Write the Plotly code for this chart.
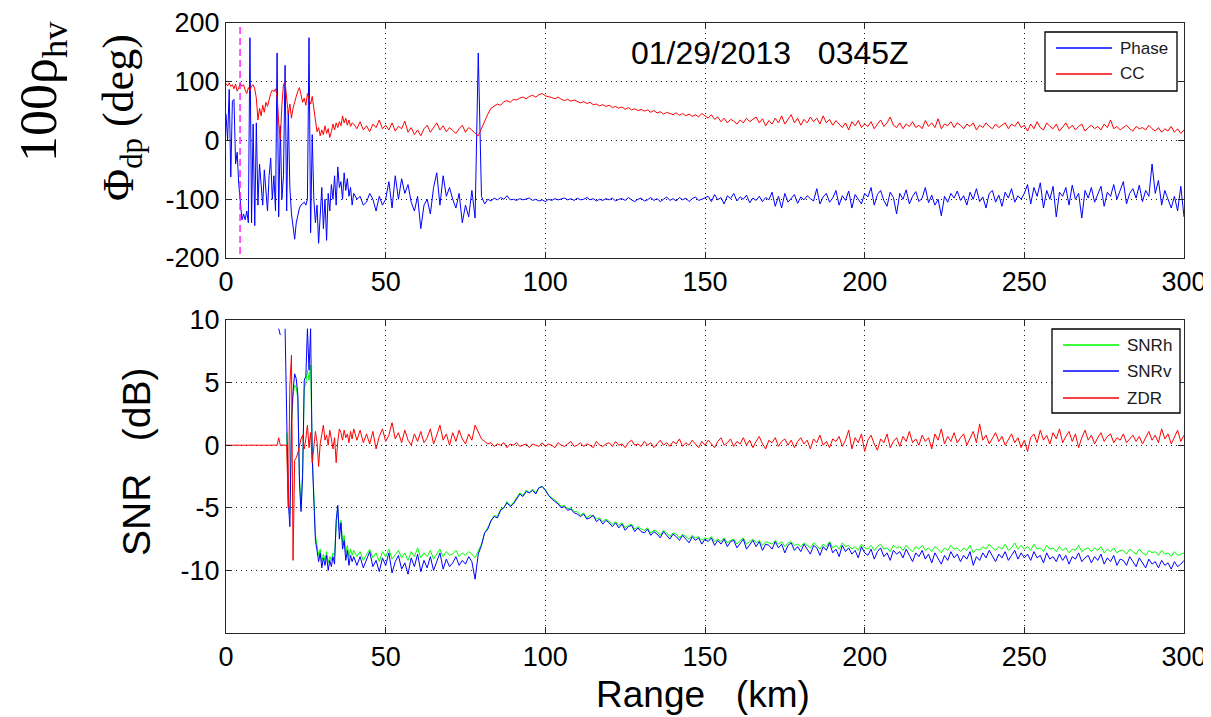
import numpy as np
import plotly.graph_objects as go

# ---------------- data ----------------
# range gates: 0.5 km spacing up to 40 km, 1 km spacing beyond
range_near_km = np.arange(0, 40.5, 0.5)      # 81 gates
range_far_km = np.arange(41, 301, 1)         # 260 gates

phase_near = [45, 0, 87, -62, 67, 70, -40, -20, -75, -110,
              -135, -125, -135, -120, -140, 175, -140, 28, -145, 30,
              -110, -40, -70, -110, -50, -90, -120, -60, -30, -100,
              -60, -120, 149, -130, 25, -100, -60, 128, -120, 50,
              -80, -125, -150, -168, -140, -125, -115, -110, -108, -105,
              -110, -100, 175, -157, 10, -100, -140, -110, -175, -120,
              -80, -150, -100, -170, -90, -120, -75, -100, -60, -110,
              -45, -80, -70, -100, -55, -85, -65, -95, -80, -110,
              -90]
phase_far = [-100, -95, -110, -105, -90, -100, -120, -95, -110, -100,
             -70, -115, -60, -100, -65, -90, -75, -105, -120, -95,
             -150, -110, -100, -125, -80, -55, -110, -60, -95, -80,
             -100, -115, -90, -140, -110, -130, -85, -132, 149, -95,
             -108, -100, -103, -98, -101, -97, -100, -94, -101, -100,
             -102, -99, -101, -100, -98, -102, -100, -103, -101, -104,
             -100, -102, -99, -101, -100, -98, -101, -99, -102, -98,
             -101, -100, -97, -101, -99, -103, -100, -102, -99, -101,
             -98, -103, -100, -99, -102, -97, -101, -104, -100, -98,
             -103, -101, -97, -102, -99, -104, -100, -96, -102, -99,
             -103, -97, -101, -98, -104, -99, -96, -102, -100, -97,
             -95, -104, -92, -101, -97, -108, -94, -99, -90, -103,
             -96, -100, -93, -106, -98, -102, -95, -104, -97, -101,
             -88, -112, -95, -115, -90, -105, -98, -92, -107, -96,
             -101, -94, -99, -103, -82, -108, -96, -90, -105, -98,
             -85, -110, -94, -102, -86, -115, -92, -100, -108, -90,
             -96, -80, -110, -92, -85, -102, -112, -88, -97, -125,
             -90, -100, -84, -108, -95, -87, -104, -98, -80, -106,
             -93, -110, -100, -128, -95, -105, -90, -98, -86, -102,
             -94, -110, -88, -100, -82, -104, -96, -115, -90, -85,
             -105, -93, -112, -88, -98, -82, -105, -94, -100, -90,
             -75, -108, -80, -95, -72, -115, -85, -100, -78, -130,
             -88, -95, -80, -110, -76, -100, -90, -132, -85, -98,
             -80, -105, -92, -78, -112, -88, -95, -75, -100, -86,
             -70, -108, -90, -82, -98, -76, -104, -85, -95, -40,
             -90, -68, -110, -85, -100, -115, -95, -120, -78, -130]

cc_near = [97, 93, 98, 92, 95, 88, 96, 84, 90, 97,
           92, 95, 86, 80, 90, 85, 93, 95, 88, 72,
           35, 55, 42, 60, 48, 65, 58, 72, 80, 86,
           83, 88, 75, 30, 2, 60, 96, 99, 70, 45,
           62, 38, 55, 68, 75, 84, 90, 78, 65, 72,
           60, 80, 70, 62, 75, 55, 40, 15, 22, 8,
           18, 10, 25, 12, 20, 5, 15, 28, 18, 30,
           22, 32, 25, 42, 30, 38, 26, 35, 24, 30,
           28]
cc_far = [20, 32, 18, 25, 15, 28, 22, 35, 20, 26,
          18, 30, 16, 24, 20, 33, 14, 22, 10, 18,
          8, 20, 26, 14, 22, 30, 18, 25, 15, 22,
          17, 12, 20, 26, 14, 22, 18, 12, 8, 20,
          35, 45, 55, 58, 62, 60, 66, 68, 65, 70,
          69, 72, 74, 71, 75, 77, 74, 78, 80, 76,
          75, 73, 71, 74, 70, 68, 70, 67, 69, 66,
          64, 66, 63, 65, 61, 62, 59, 61, 58, 60,
          56, 58, 55, 57, 53, 56, 52, 54, 51, 53,
          50, 52, 48, 51, 47, 49, 45, 48, 46, 44,
          47, 43, 46, 42, 45, 41, 44, 40, 46, 42,
          38, 44, 36, 40, 32, 38, 30, 36, 33, 28,
          35, 30, 38, 32, 36, 40, 30, 37, 25, 34,
          28, 38, 30, 42, 28, 35, 44, 30, 38, 26,
          36, 30, 40, 32, 38, 28, 42, 30, 36, 26,
          34, 28, 22, 30, 18, 32, 25, 34, 22, 28,
          24, 32, 20, 28, 35, 24, 30, 40, 26, 22,
          30, 20, 28, 24, 32, 22, 26, 20, 34, 24,
          30, 22, 37, 20, 28, 25, 32, 22, 30, 26,
          20, 28, 24, 30, 18, 26, 22, 30, 24, 20,
          28, 22, 26, 30, 20, 28, 24, 32, 22, 26,
          16, 28, 20, 32, 22, 18, 30, 24, 20, 28,
          16, 24, 30, 20, 26, 18, 24, 28, 16, 22,
          26, 20, 24, 18, 28, 22, 35, 20, 24, 18,
          22, 26, 20, 16, 24, 20, 22, 18, 26, 20,
          16, 22, 14, 20, 16, 24, 14, 20, 12, 18]

N = None
snrh_near = [N, N, N, N, N, N, N, N, N, N,
             N, N, N, N, N, N, N, N, N, N,
             N, N, N, N, N, N, N, N, N, N,
             N, N, N, N, N, N, N, N, 1.0, -4.3,
             -5.5, 1.5, 4.0, 4.8, 4.6, 3.7, -2.5, -4.9, -2.0, 4.5,
             5.0, 6.0, 5.2, 6.4, -0.5, -4.0, -7.2, -8.0, -8.8, -8.3,
             -9.3, -8.7, -9.2, -8.5, -9.4, -8.9, -9.2, -8.6, -8.8, -6.5,
             -5.0, -6.8, -6.0, -7.8, -7.2, -8.6, -8.0, -8.9, -8.3, -8.8,
             -8.4]
snrh_far = [-8.9, -8.5, -9.2, -8.7, -8.3, -9.0, -8.6, -9.3, -8.5, -8.9,
            -8.3, -9.1, -8.7, -8.4, -9.0, -8.6, -9.2, -8.5, -8.9, -8.2,
            -9.0, -8.6, -8.9, -8.4, -9.1, -8.7, -8.3, -8.9, -8.5, -8.8,
            -8.7, -8.4, -8.9, -8.6, -8.8, -8.5, -8.7, -9.0, -8.5, -7.9,
            -7.0, -6.6, -6.1, -5.6, -5.7, -5.1, -5.0, -4.5, -4.8, -4.6,
            -4.2, -3.8, -4.0, -3.6, -3.8, -3.5, -3.8, -3.4, -3.3, -3.5,
            -4.0, -4.2, -4.4, -4.6, -4.9, -4.8, -5.1, -5.0, -5.3, -5.3,
            -5.6, -5.4, -5.8, -5.6, -5.6, -5.9, -5.8, -6.1, -5.9, -6.1,
            -6.3, -6.1, -6.4, -6.2, -6.6, -6.4, -6.3, -6.7, -6.5, -6.7,
            -6.8, -6.6, -7.0, -6.8, -6.9, -7.2, -6.8, -7.0, -7.3, -7.0,
            -7.1, -7.4, -7.1, -7.3, -7.5, -7.2, -7.4, -7.3, -7.6, -7.4,
            -7.5, -7.3, -7.7, -7.5, -7.7, -7.4, -7.8, -7.6, -7.5, -7.9,
            -7.6, -7.4, -7.9, -7.7, -7.5, -7.8, -7.6, -8.0, -7.7, -7.8,
            -7.9, -7.6, -7.9, -7.7, -8.1, -7.8, -7.7, -8.0, -7.9, -8.1,
            -7.8, -8.0, -8.2, -7.8, -8.0, -8.3, -7.9, -8.1, -7.7, -8.2,
            -8.0, -8.3, -7.8, -8.1, -8.0, -8.3, -8.1, -8.4, -7.9, -8.2,
            -8.3, -8.0, -8.4, -8.1, -7.9, -8.3, -8.2, -8.5, -8.0, -8.2,
            -8.1, -8.4, -8.0, -8.3, -8.5, -8.1, -8.3, -8.0, -8.4, -8.2,
            -8.5, -8.1, -8.3, -8.6, -8.2, -8.4, -8.0, -8.3, -8.2, -8.5,
            -8.2, -8.4, -8.0, -8.6, -8.3, -8.4, -8.1, -8.3, -7.9, -8.2,
            -8.4, -8.1, -8.3, -7.9, -8.4, -8.2, -7.8, -8.3, -8.0, -8.3,
            -8.1, -8.4, -7.9, -8.3, -8.2, -8.5, -8.0, -8.3, -8.2, -8.5,
            -8.1, -8.4, -8.2, -8.6, -8.3, -8.4, -8.0, -8.5, -8.3, -8.2,
            -8.5, -8.2, -8.4, -8.1, -8.6, -8.3, -8.5, -8.2, -8.6, -8.4,
            -8.4, -8.7, -8.3, -8.5, -8.7, -8.3, -8.6, -8.8, -8.4, -8.6,
            -8.5, -8.8, -8.4, -8.7, -8.6, -8.9, -8.5, -8.8, -8.7, -8.6]

snrv_near = [N, N, N, N, N, N, N, N, N, N,
             N, N, N, N, N, N, N, N, N, N,
             N, N, N, N, N, N, N, N, N, N,
             N, N, N, 9.3, 8.8, N, N, 9.3, 2.9, -4.5,
             -6.5, 2.0, 4.3, 5.7, 5.3, 4.0, -3.0, -5.3, -2.5, 5.2,
             5.5, 9.3, 6.0, 9.3, -1.0, -4.4, -7.6, -8.4, -9.3, -8.6,
             -9.8, -9.0, -9.6, -8.8, -10.0, -9.2, -9.7, -8.9, -9.5, -6.0,
             -4.8, -7.5, -6.2, -8.3, -7.6, -9.2, -8.4, -9.6, -8.8, -9.3,
             -8.9]
snrv_far = [-9.6, -8.9, -9.8, -9.1, -8.5, -9.7, -9.2, -10.1, -9.0, -9.6,
            -8.6, -10.2, -9.3, -8.8, -9.9, -9.4, -10.3, -9.0, -9.7, -8.7,
            -10.1, -9.2, -9.8, -8.9, -10.0, -9.3, -8.6, -9.9, -9.1, -9.7,
            -9.4, -8.9, -9.6, -9.2, -9.5, -8.9, -9.3, -10.7, -8.7, -8.0,
            -7.0, -6.7, -6.0, -5.7, -5.8, -5.2, -5.0, -4.6, -4.9, -4.7,
            -4.3, -3.9, -4.1, -3.7, -3.8, -3.6, -3.9, -3.4, -3.3, -3.6,
            -4.0, -4.3, -4.5, -4.7, -5.0, -4.9, -5.2, -5.1, -5.4, -5.5,
            -5.7, -5.5, -5.9, -5.8, -5.6, -6.1, -5.9, -6.3, -6.0, -6.2,
            -6.5, -6.2, -6.6, -6.3, -6.8, -6.5, -6.4, -6.9, -6.6, -6.9,
            -7.0, -6.7, -7.2, -6.9, -7.1, -7.4, -6.9, -7.2, -7.5, -7.1,
            -7.3, -7.6, -7.2, -7.5, -7.8, -7.3, -7.6, -7.4, -7.9, -7.5,
            -7.7, -7.4, -8.0, -7.6, -7.9, -7.5, -8.1, -7.7, -7.6, -8.2,
            -7.8, -7.5, -8.3, -7.9, -7.6, -8.1, -7.7, -8.4, -7.9, -8.0,
            -8.3, -7.7, -8.2, -7.9, -8.6, -8.0, -7.8, -8.4, -8.1, -8.5,
            -7.9, -8.3, -8.7, -8.0, -8.2, -8.8, -8.1, -8.4, -7.8, -8.6,
            -8.3, -8.9, -8.0, -8.5, -8.2, -8.7, -8.4, -9.0, -8.1, -8.6,
            -8.8, -8.3, -9.1, -8.5, -8.2, -8.9, -8.6, -9.2, -8.4, -8.7,
            -8.5, -9.0, -8.3, -8.8, -9.3, -8.6, -8.9, -8.4, -9.1, -8.7,
            -9.4, -8.6, -9.0, -9.5, -8.8, -9.2, -8.5, -9.0, -8.7, -9.3,
            -8.8, -9.1, -8.5, -9.6, -8.9, -9.2, -8.6, -9.0, -8.4, -8.9,
            -9.3, -8.7, -9.0, -8.5, -9.2, -8.8, -8.4, -9.1, -8.6, -9.0,
            -8.7, -9.2, -8.5, -9.0, -8.8, -9.4, -8.6, -9.1, -8.9, -9.3,
            -8.7, -9.2, -8.8, -9.5, -8.9, -9.1, -8.6, -9.3, -9.0, -8.8,
            -9.4, -8.9, -9.2, -8.7, -9.5, -9.0, -9.3, -8.8, -9.6, -9.1,
            -9.2, -9.6, -8.9, -9.3, -9.7, -9.0, -9.4, -9.8, -9.1, -9.5,
            -9.3, -9.8, -9.2, -9.6, -9.4, -9.9, -9.3, -9.7, -9.5, -9.2]

zdr_near = [0, 0, 0, 0, 0, 0, 0, 0, 0, 0,
            0, 0, 0, 0, 0, 0, 0, 0, 0, 0,
            0, 0, 0, 0, 0, 0, 0, 0, 0, 0,
            0, 0, 0, 0.6, 0, 0, 0, 0, 0, -5.0,
            4.8, 7.2, -9.2, -1.2, -1.0, -0.6, 0.0, 0.5, 0.8, -0.3,
            0.5, 1.6, -0.2, 1.0, -1.4, 0.2, 1.1, 0.3, -1.7, 0.1,
            1.0, 1.6, 0.4, 0.8, 0.0, 1.2, 0.5, -0.3, 0.6, -1.4,
            0.3, 1.3, 1.0, 0.4, 1.2, 0.6, 0.9, 0.2, 1.1, 0.5,
            1.3]
zdr_far = [0.4, 1.2, 0.2, 0.9, 0.1, 1.1, -0.3, 0.7, 1.3, 0.3,
           0.8, 1.8, 0.5, 1.0, 0.2, 1.2, 0.4, 0.0, 0.9, 0.3,
           1.1, 0.2, 0.6, 1.3, 0.1, 0.8, 1.6, 0.4, 0.9, 0.0,
           1.0, 0.3, 1.2, 0.5, 0.1, 0.9, 0.4, 1.6, 1.1, 0.5,
           0.3, 0.1, 0.2, -0.1, 0.1, 0.0, 0.2, -0.2, 0.1, 0.0,
           0.2, -0.1, 0.0, 0.1, -0.2, 0.1, 0.0, -0.1, 0.2, -0.1,
           0.1, 0.0, -0.2, 0.2, 0.0, -0.1, 0.1, 0.3, -0.1, 0.0,
           0.2, -0.1, 0.1, 0.0, -0.2, 0.3, 0.0, -0.1, 0.1, 0.2,
           -0.1, 0.3, 0.0, 0.1, -0.2, 0.2, 0.4, 0.0, 0.1, -0.1,
           0.3, 0.0, 0.2, -0.2, 0.1, 0.4, 0.0, 0.2, -0.1, 0.3,
           0.1, 0.5, -0.1, 0.2, 0.0, 0.4, 0.1, -0.2, 0.3, 0.0,
           0.4, 0.1, -0.2, 0.3, 0.6, 0.0, 0.2, 0.5, -0.1, 0.3,
           0.1, 0.6, 0.0, 0.4, -0.2, 0.3, 0.7, 0.1, -0.3, 0.4,
           0.2, 0.6, -0.1, 0.3, 0.5, 0.0, 0.4, -0.2, 0.3, 0.6,
           0.1, 0.4, -0.3, 0.5, 0.2, 0.8, 0.0, 0.3, -0.2, 0.5,
           0.3, 0.7, -0.1, 0.4, 1.2, -0.3, 0.6, 0.2, 0.9, -0.5,
           0.4, 0.8, 0.1, -0.4, 0.5, 0.2, 0.9, -0.2, 0.3, 0.6,
           -0.1, 0.7, 0.3, 1.1, 0.2, 0.5, 0.0, 0.8, 0.3, 0.6,
           -0.3, 0.9, 0.4, 1.3, 0.1, 0.7, 0.3, 1.0, 0.2, 0.6,
           0.9, 0.0, 0.5, 1.1, 0.2, 1.7, 0.4, 0.8, 0.1, 0.6,
           1.0, 0.3, 0.7, 0.0, 0.5, 0.9, 0.2, 0.6, -0.2, 0.4,
           -0.5, 0.6, 0.9, 0.2, 1.2, 0.4, 0.8, 0.1, 1.0, 0.5,
           1.3, 0.2, 0.7, 1.1, 0.3, 0.9, -0.2, 0.6, 1.2, 0.4,
           0.8, 0.1, 0.6, 1.0, 0.3, 0.7, 0.9, 0.2, 0.6, 0.4,
           0.9, 0.2, 0.5, 0.8, 0.3, 0.7, 0.1, 0.6, 1.1, 0.4,
           0.8, 0.2, 1.3, 0.5, 0.9, 0.1, 0.7, 1.2, 0.3, 0.8]

marker_km = 4.4                       # dashed range marker in the top panel
title_text = "01/29/2013\u00a0\u00a0\u00a00345Z"
x_ticks = [0, 50, 100, 150, 200, 250, 300]
top_y_ticks = [-200, -100, 0, 100, 200]
bot_y_ticks = [-10, -5, 0, 5, 10]


def join(a, b):
    return np.concatenate([np.array(a, dtype=float), np.array(b, dtype=float)])


range_km = np.concatenate([range_near_km, range_far_km])
phase = join(phase_near, phase_far)
cc = join(cc_near, cc_far)
snrh = join(snrh_near, snrh_far)
snrv = join(snrv_near, snrv_far)
zdr = join(zdr_near, zdr_far)

# ---------------- figure ----------------
OFF = 8                              # page body margin of the html page
PW, PH = 1211, 717                   # photographed window
W, H = PW - OFF, PH - OFF
L, R, T, B = 226, 1184, 23, 633      # plot-area pixel box in window pixels


def px(xp):
    return (xp - L) / (R - L)


def py(yp):
    return (B - yp) / (B - T)


BLUE, RED, GREEN, MAGENTA = "#0000FF", "#FF0000", "#00FF00", "#FF00FF"
AX = "#262626"
SANS = "Liberation Sans, Arial, sans-serif"
SERIF = "Liberation Serif, Times New Roman, serif"

fig = go.Figure()
fig.add_trace(go.Scatter(x=range_km, y=phase, mode="lines", name="Phase",
                         line=dict(color=BLUE, width=1), xaxis="x", yaxis="y"))
fig.add_trace(go.Scatter(x=range_km, y=cc, mode="lines", name="CC",
                         line=dict(color=RED, width=1), xaxis="x", yaxis="y"))
fig.add_trace(go.Scatter(x=[marker_km, marker_km], y=[-193, 193], mode="lines",
                         line=dict(color=MAGENTA, width=1.3, dash="7px,4px"),
                         xaxis="x", yaxis="y", hoverinfo="skip"))
fig.add_trace(go.Scatter(x=range_km, y=snrh, mode="lines", name="SNRh",
                         line=dict(color=GREEN, width=1), xaxis="x2", yaxis="y2"))
fig.add_trace(go.Scatter(x=range_km, y=snrv, mode="lines", name="SNRv",
                         line=dict(color=BLUE, width=1), xaxis="x2", yaxis="y2"))
fig.add_trace(go.Scatter(x=range_km, y=zdr, mode="lines", name="ZDR",
                         line=dict(color=RED, width=1), xaxis="x2", yaxis="y2"))
for tr in fig.data:
    tr.showlegend = False

axis_common = dict(
    showline=True, linecolor=AX, linewidth=1, mirror="ticks",
    ticks="inside", ticklen=6, tickcolor=AX, tickwidth=1,
    showgrid=True, gridcolor="#1a1a1a", gridwidth=1, griddash="1px,4px",
    zeroline=False, tickfont=dict(family=SANS, size=27, color="black"),
    automargin=False, ticklabeloverflow="allow",
)
top_dom = [py(258), 1.0]
bot_dom = [0.0, py(320)]


def labels(vals):
    return [str(v) for v in vals]   # plain hyphen minus like the reference


fig.update_layout(
    width=W, height=H,
    margin=dict(l=L - OFF, r=PW - R, t=T - OFF, b=PH - B, autoexpand=False),
    paper_bgcolor="white", plot_bgcolor="white",
    showlegend=False,
    xaxis=dict(domain=[0, 1], anchor="y", range=[0, 300], tickvals=x_ticks,
               ticktext=labels(x_ticks), **axis_common),
    yaxis=dict(domain=top_dom, anchor="x", range=[-200, 200], tickvals=top_y_ticks,
               ticktext=labels(top_y_ticks), **axis_common),
    xaxis2=dict(domain=[0, 1], anchor="y2", range=[0, 300], tickvals=x_ticks,
                ticktext=labels(x_ticks), **axis_common),
    yaxis2=dict(domain=bot_dom, anchor="x2", range=[-15, 10], tickvals=bot_y_ticks,
                ticktext=labels(bot_y_ticks), **axis_common),
)

anns = [
    dict(text=title_text, x=px(770), y=py(53), font=dict(family=SANS, size=32, color="black")),
    dict(text="100\u03c1<sub>hv</sub>", x=px(42), y=py(92), textangle=-90,
         font=dict(family=SERIF, size=52, color="black")),
    dict(text="\u03a6<sub>dp</sub> (deg)", x=px(122), y=py(118), textangle=-90,
         font=dict(family=SERIF, size=44, color="black")),
    dict(text="SNR\u00a0\u00a0\u00a0(dB)", x=px(137), y=py(462), textangle=-90,
         font=dict(family=SANS, size=39, color="black")),
    dict(text="Range\u00a0\u00a0\u00a0(km)", x=px(703), y=py(694),
         font=dict(family=SANS, size=37, color="black")),
]

# legends (box, sample lines and labels) drawn in pixel-mapped paper coords
shapes = []
legends = [
    dict(box=(1045, 32, 1177, 91), x0=1056, x1=1112, tx=1118,
         rows=[(48, BLUE, "Phase"), (74, RED, "CC")]),
    dict(box=(1052, 329, 1180, 413), x0=1063, x1=1119, tx=1125,
         rows=[(345, GREEN, "SNRh"), (371, BLUE, "SNRv"), (398, RED, "ZDR")]),
]
for lg in legends:
    bx0, by0, bx1, by1 = lg["box"]
    shapes.append(dict(type="rect", xref="paper", yref="paper",
                       x0=px(bx0), x1=px(bx1), y0=py(by1), y1=py(by0),
                       line=dict(color="black", width=1.3), fillcolor="white", layer="above"))
    for yy, col, label in lg["rows"]:
        shapes.append(dict(type="line", xref="paper", yref="paper",
                           x0=px(lg["x0"]), x1=px(lg["x1"]), y0=py(yy), y1=py(yy),
                           line=dict(color=col, width=1.3), layer="above"))
        anns.append(dict(text=label, x=px(lg["tx"]), y=py(yy), xanchor="left",
                         font=dict(family=SANS, size=17, color="#1a1a1a")))

for a in anns:
    a.setdefault("xref", "paper")
    a.setdefault("yref", "paper")
    a.setdefault("showarrow", False)
    a.setdefault("xanchor", "center")
    a.setdefault("yanchor", "middle")

fig.update_layout(annotations=anns, shapes=shapes)
fig.write_html("out.html")
